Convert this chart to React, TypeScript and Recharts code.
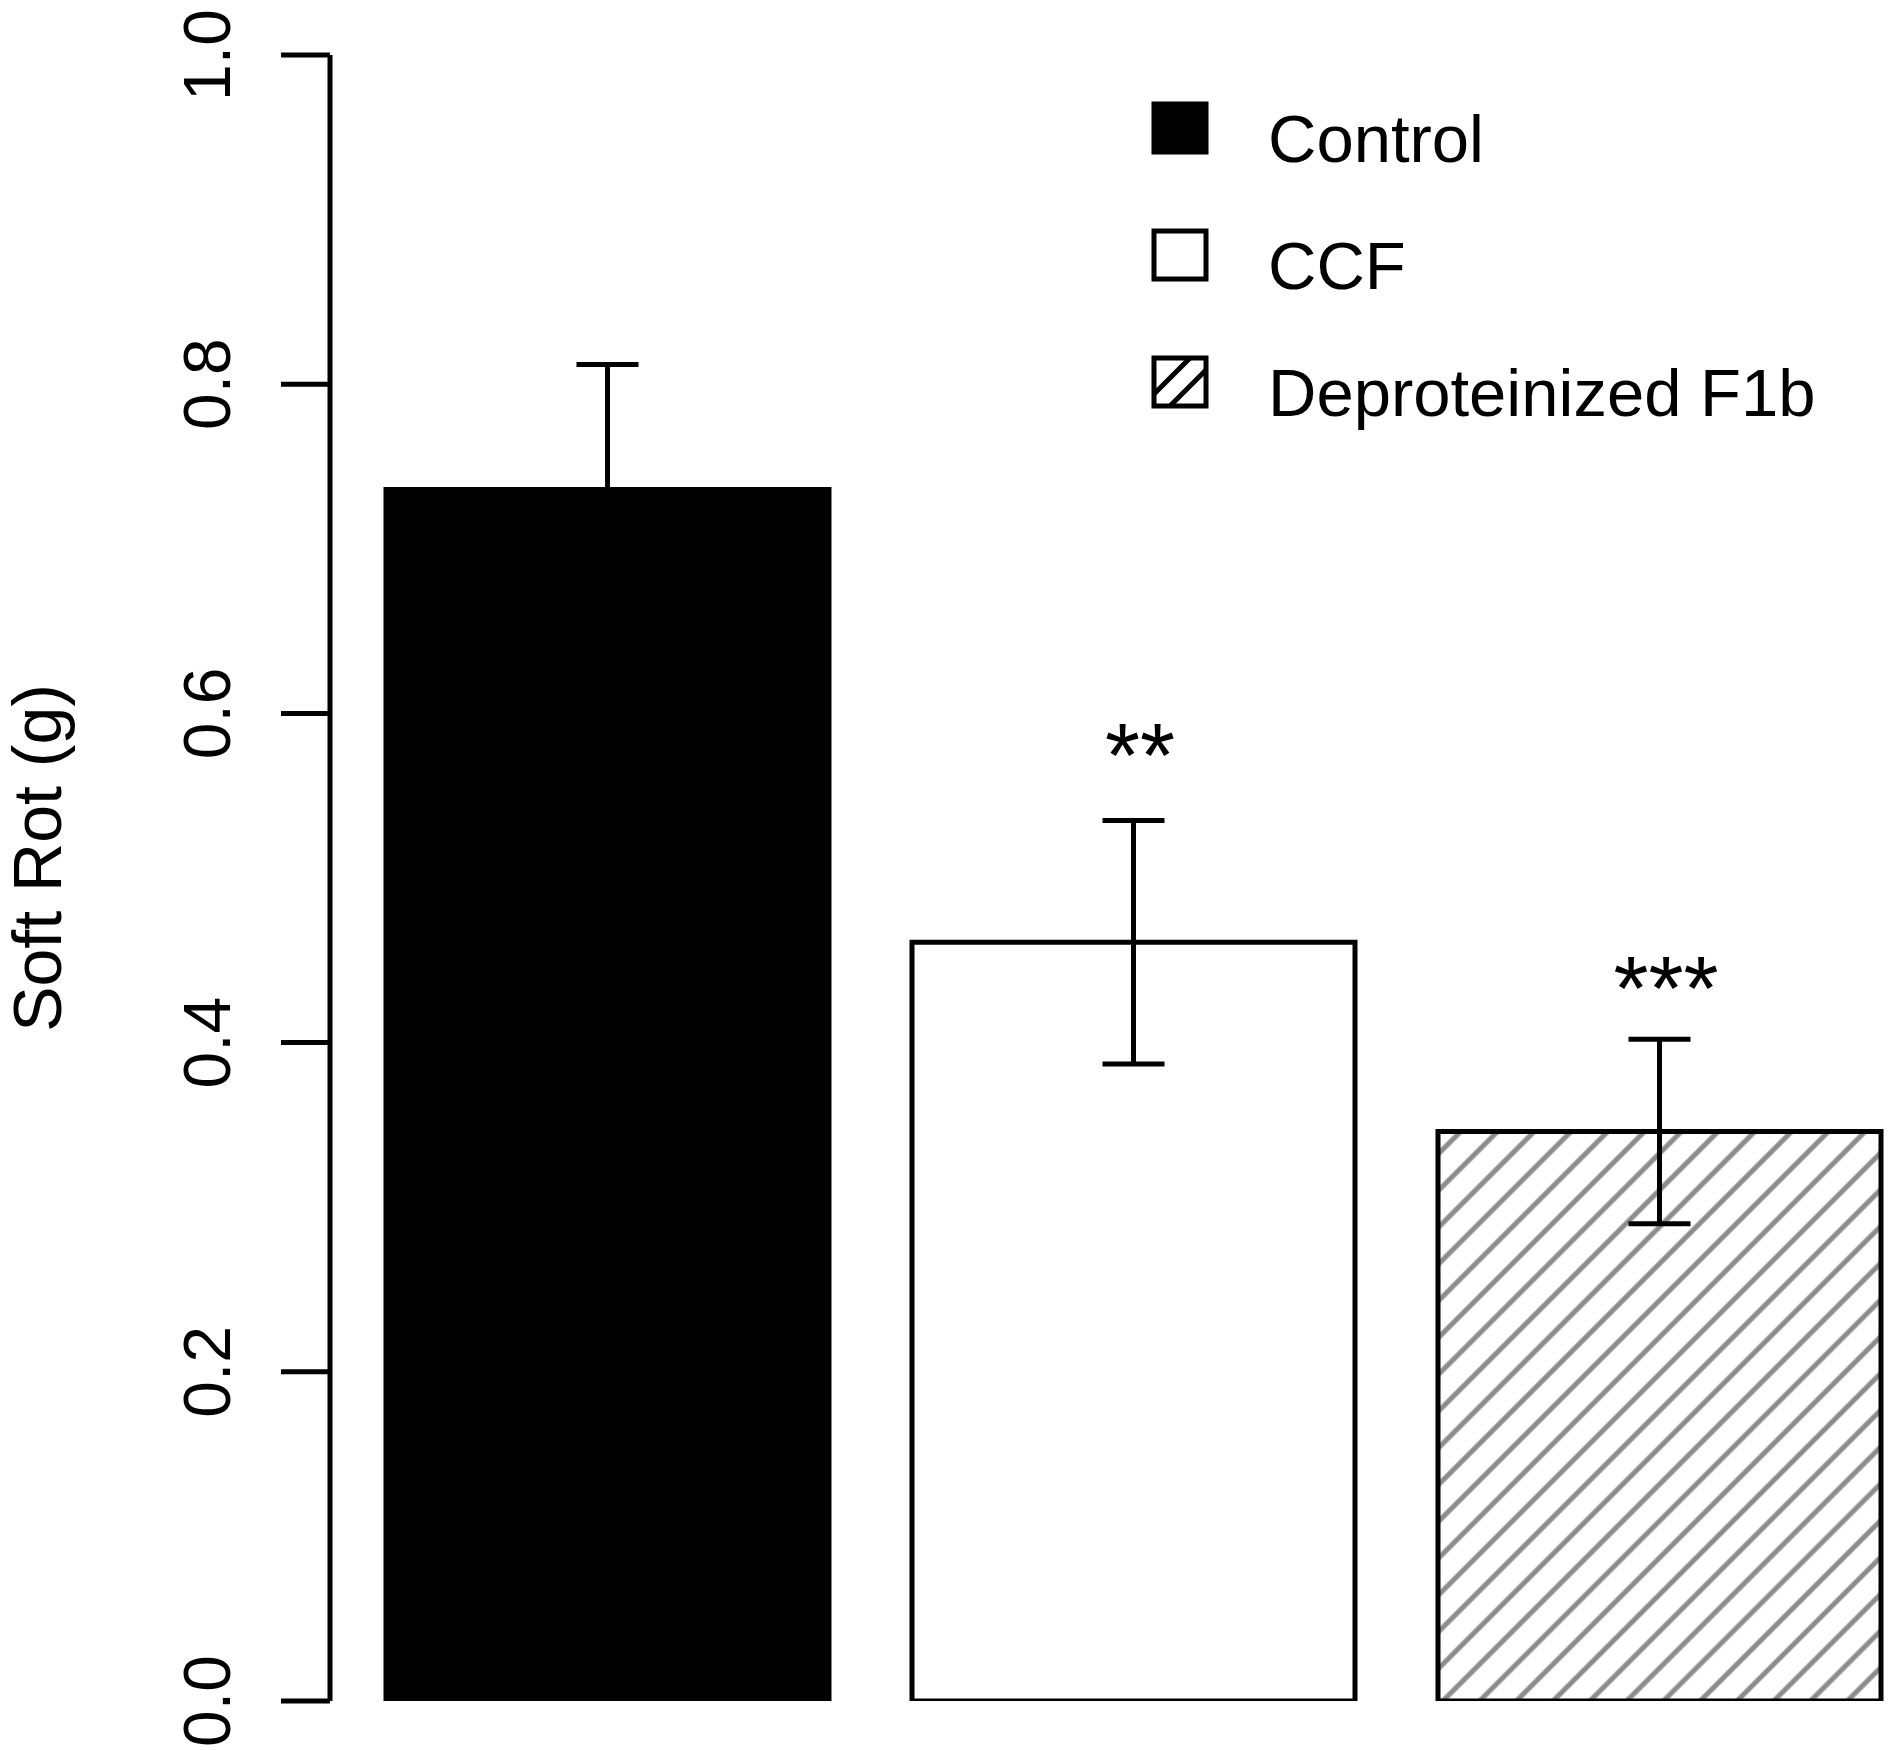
import React from 'react';
import { BarChart, Bar, XAxis, YAxis, Cell, ErrorBar, ReferenceDot } from 'recharts';

const categories = ['Control', 'CCF', 'Deproteinized F1b'];
const means = [0.736, 0.461, 0.346];
const errors = [0.076, 0.074, 0.056];
const stars = ['', '**', '***'];
const starBaseline = [0, 0.555, 0.414];
const yTicks = [0, 0.2, 0.4, 0.6, 0.8, 1.0];

const fills = ['#000000', '#ffffff', 'url(#hatch)'];
const FONT = '"Liberation Sans", Arial, Helvetica, sans-serif';
const LW = 5;

const data = categories.map((name, i) => ({ name, mean: means[i], err: errors[i] }));

function YTick({ x, y, payload }: any) {
  const bx = x - 49;
  return (
    <text x={bx} y={y} transform={`rotate(-90, ${bx}, ${y})`} textAnchor="middle" fontSize={66} fontFamily={FONT} fill="#000">
      {Number(payload.value).toFixed(1)}
    </text>
  );
}

function YLabel() {
  return (
    <text x={61} y={858} transform="rotate(-90, 61, 858)" textAnchor="middle" fontSize={68} fontFamily={FONT} fill="#000">
      Soft Rot (g)
    </text>
  );
}

function StarMark(label: string) {
  return (props: any) => (
    <text x={props.cx + 7} y={props.cy} textAnchor="middle" fontSize={90} fontFamily={FONT} fill="#000">
      {label}
    </text>
  );
}

function LegendBox() {
  return (
    <svg width={720} height={420} style={{ position: 'absolute', left: 1140, top: 90 }}>
      <defs>
        <clipPath id="legclip">
          <rect x={14} y={268} width={52} height={48} />
        </clipPath>
      </defs>
      {categories.map((name, i) => {
        const top = 14 + i * 127;
        return (
          <g key={name}>
            <rect x={14} y={top} width={52} height={48} fill={i === 0 ? '#000' : '#fff'} stroke="#000" strokeWidth={LW} />
            {i === 2 && (
              <g clipPath="url(#legclip)" stroke="#000" strokeWidth={LW}>
                <line x1={14} y1={top + 36} x2={50} y2={top} />
                <line x1={30} y1={top + 48} x2={78} y2={top} />
              </g>
            )}
            <text x={128} y={top + 58} fontSize={67} fontFamily={FONT} fill="#000">
              {name}
            </text>
          </g>
        );
      })}
    </svg>
  );
}

export default function App() {
  return (
    <div style={{ position: 'absolute', left: 0, top: 0, width: 1893, height: 1751, overflow: 'hidden', background: '#fff' }}>
      <BarChart width={1960} height={1751} data={data} margin={{ top: 55, right: 38, bottom: 50, left: 0 }}>
        <defs>
          <pattern id="hatch" width={26} height={26} patternUnits="userSpaceOnUse" patternTransform="rotate(45)">
            <rect width={26} height={26} fill="#fff" />
            <line x1={13} y1={0} x2={13} y2={26} stroke="#8c8c8c" strokeWidth={5} />
          </pattern>
        </defs>
        <XAxis dataKey="name" hide height={0} padding={{ left: 14, right: 0 }} />
        <YAxis
          domain={[0, 1]}
          ticks={yTicks}
          width={330}
          tickSize={49}
          tick={<YTick />}
          axisLine={{ stroke: '#000', strokeWidth: LW }}
          tickLine={{ stroke: '#000', strokeWidth: LW }}
          label={{ content: <YLabel /> }}
          allowDataOverflow
        />
        <Bar dataKey="mean" barSize={443} stroke="#000" strokeWidth={LW} isAnimationActive={false}>
          {data.map((d, i) => (
            <Cell key={d.name} fill={fills[i]} />
          ))}
          <ErrorBar dataKey="err" width={31} stroke="#000" strokeWidth={LW} />
        </Bar>
        {categories.map((name, i) =>
          stars[i] ? (
            <ReferenceDot key={name} x={name} y={starBaseline[i]} r={0} shape={StarMark(stars[i])} />
          ) : null
        )}
      </BarChart>
      <LegendBox />
    </div>
  );
}
